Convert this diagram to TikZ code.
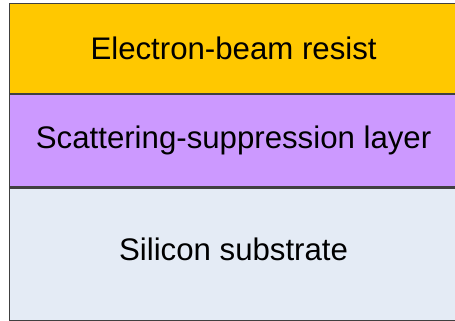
\documentclass[tikz,border=0pt]{standalone}
\usepackage{fontspec}
\setmainfont{Liberation Sans}
\usetikzlibrary{positioning}
\definecolor{resistcol}{HTML}{FFC800}
\definecolor{suppcol}{HTML}{CC99FF}
\definecolor{substcol}{HTML}{E4EBF5}

\begin{document}
\begin{tikzpicture}[x=1pt, y=1pt, node distance=0pt,
    layer/.style={draw=black!75, line width=1.2pt, rectangle, minimum width=448pt, inner sep=0pt, align=center, font=\fontsize{31.2}{36}\selectfont}]
    \useasboundingbox (0,0) rectangle (455,321);
    % Layer stack
    \node (resist) at (9,318) [layer, anchor=north west, fill=resistcol, minimum height=90pt] {Electron-beam resist};
    \node (supp) [layer, below=of resist, fill=suppcol, minimum height=92pt] {Scattering-suppression layer};
    \node (subst) [layer, below=of supp, fill=substcol, minimum height=132.5pt, text depth=10pt] {Silicon substrate};
\end{tikzpicture}
\end{document}
